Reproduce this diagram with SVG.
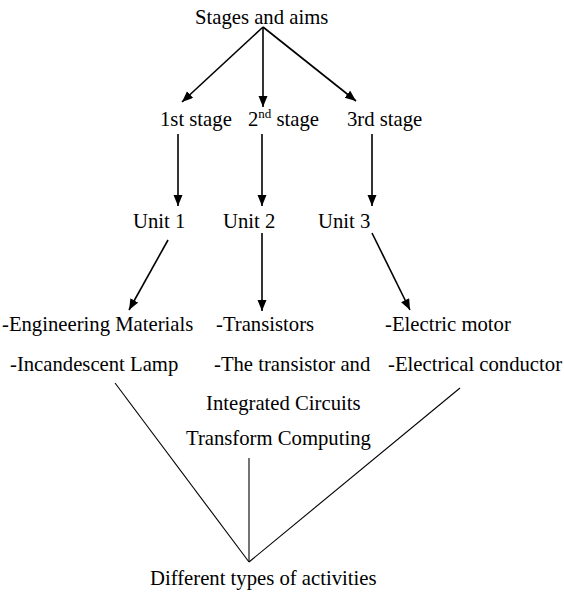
<svg xmlns="http://www.w3.org/2000/svg" width="564" height="597" viewBox="0 0 564 597">
<style>
text{font-family:"Liberation Serif","Times New Roman",serif;font-size:20.7px;fill:#000}
.a{stroke:#000;stroke-width:1.6;fill:none}
.l{stroke:#000;stroke-width:1.1;fill:none}
</style>
<defs>
<marker id="ah" markerUnits="userSpaceOnUse" markerWidth="12" markerHeight="10" refX="11" refY="4.5" orient="auto">
<path d="M0,0 L11,4.5 L0,9 z" fill="#000"/>
</marker>
</defs>
<rect width="564" height="597" fill="#fff"/>
<g id="connectors">
<line class="a" x1="263" y1="27" x2="182" y2="102" marker-end="url(#ah)"/>
<line class="a" x1="263" y1="27" x2="263" y2="107" marker-end="url(#ah)"/>
<line class="a" x1="263" y1="27" x2="356" y2="101" marker-end="url(#ah)"/>
<line class="a" x1="178" y1="134" x2="178" y2="206" marker-end="url(#ah)"/>
<line class="a" x1="262" y1="134" x2="262" y2="206" marker-end="url(#ah)"/>
<line class="a" x1="372" y1="134" x2="372" y2="206" marker-end="url(#ah)"/>
<line class="a" x1="168" y1="240" x2="129" y2="310" marker-end="url(#ah)"/>
<line class="a" x1="262" y1="233" x2="262" y2="311" marker-end="url(#ah)"/>
<line class="a" x1="372" y1="233" x2="410" y2="310" marker-end="url(#ah)"/>
<line class="l" x1="115" y1="383" x2="249" y2="562"/>
<line class="l" x1="460" y1="388" x2="249" y2="562"/>
<line class="l" x1="249" y1="458" x2="249" y2="562"/>
</g>
<g id="root"><text x="195" y="24">Stages and aims</text></g>
<g id="stage1"><text x="160" y="126">1st stage</text></g>
<g id="stage2"><text x="248" y="126">2<tspan font-size="13" dy="-8">nd</tspan><tspan dy="8"> stage</tspan></text></g>
<g id="stage3"><text x="347" y="126">3rd stage</text></g>
<g id="unit1"><text x="133" y="228">Unit 1</text></g>
<g id="unit2"><text x="223" y="228">Unit 2</text></g>
<g id="unit3"><text x="318" y="228">Unit 3</text></g>
<g id="topics1">
<text x="2" y="331">-Engineering Materials</text>
<text x="10" y="371">-Incandescent Lamp</text>
</g>
<g id="topics2">
<text x="216" y="331">-Transistors</text>
<text x="214" y="371">-The transistor and</text>
<text x="206" y="410">Integrated Circuits</text>
<text x="186" y="445">Transform Computing</text>
</g>
<g id="topics3">
<text x="385" y="331">-Electric motor</text>
<text x="388" y="371">-Electrical conductor</text>
</g>
<g id="activities"><text x="150" y="585">Different types of activities</text></g>
</svg>
